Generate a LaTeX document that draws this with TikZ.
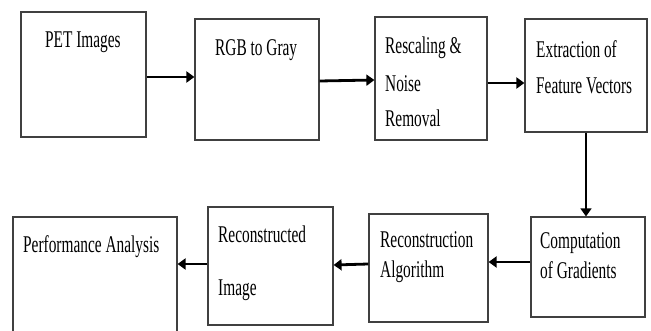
\documentclass[tikz,border=0pt]{standalone}
\usepackage{fontspec}
\setmainfont[FakeStretch=0.64]{Liberation Serif}
\usetikzlibrary{arrows.meta}
\tikzset{
  blk/.style={draw=black!75, line width=1.2pt, inner sep=0pt},
  txt/.style={anchor=base west, inner sep=0pt, font=\fontsize{24}{28}\selectfont},
  arr/.style={->, line width=2.8pt},
}
\begin{document}
\begin{tikzpicture}[x=1pt, y=-1pt, >={Triangle[length=8pt,width=11pt]}]
            \useasboundingbox (0,0) rectangle (651,331);
            \clip (0,0) rectangle (651,331);
            % top row
            \node[blk, minimum width=125pt, minimum height=125pt] (pet) at (83.5,74.5) {};
            \node[blk, minimum width=124pt, minimum height=121pt] (rgb) at (257,79.5) {};
            \node[blk, minimum width=112pt, minimum height=123pt] (resc) at (431,78.5) {};
            \node[blk, minimum width=122pt, minimum height=113pt] (extr) at (586,75.5) {};
            % bottom row
            \node[blk, minimum width=164pt, minimum height=130pt] (perf) at (95,282) {};
            \node[blk, minimum width=125pt, minimum height=118pt] (recimg) at (270.5,266) {};
            \node[blk, minimum width=119pt, minimum height=108pt] (recalg) at (428.5,268) {};
            \node[blk, minimum width=114pt, minimum height=100pt] (grad) at (588,267) {};
            % labels
            \node[txt] (t1) at (45,48) {PET Images};
            \node[txt] (t2) at (215,56) {RGB to Gray};
            \node[txt] (t3a) at (385,54) {Rescaling \&};
            \node[txt] (t3b) at (385,92) {Noise};
            \node[txt] (t3c) at (385,127) {Removal};
            \node[txt] (t4a) at (536,58) {Extraction of};
            \node[txt] (t4b) at (536,94) {Feature Vectors};
            \node[txt] (t5) at (23,253) {Performance Analysis};
            \node[txt] (t6a) at (218,243) {Reconstructed};
            \node[txt] (t6b) at (218,296) {Image};
            \node[txt] (t7a) at (380,248) {Reconstruction};
            \node[txt] (t7b) at (380,278) {Algorithm};
            \node[txt] (t8a) at (540,249) {Computation};
            \node[txt] (t8b) at (540,279) {of Gradients};
            % arrows
            \draw[arr] (pet.east |- 0,77) -- (rgb.west |- 0,77);
            \draw[arr] (rgb.east |- 0,81) -- (resc.west |- 0,80);
            \draw[arr] (resc.east |- 0,83) -- (extr.west |- 0,83);
            \draw[->, line width=1.5pt] (extr.south) -- (grad.north -| extr.south);
            \draw[arr] (grad.west |- 0,262) -- (recalg.east |- 0,262);
            \draw[arr] (recalg.west |- 0,264) -- (recimg.east |- 0,265);
            \draw[arr] (recimg.west |- 0,264) -- (perf.east |- 0,264);
\end{tikzpicture}
\end{document}
